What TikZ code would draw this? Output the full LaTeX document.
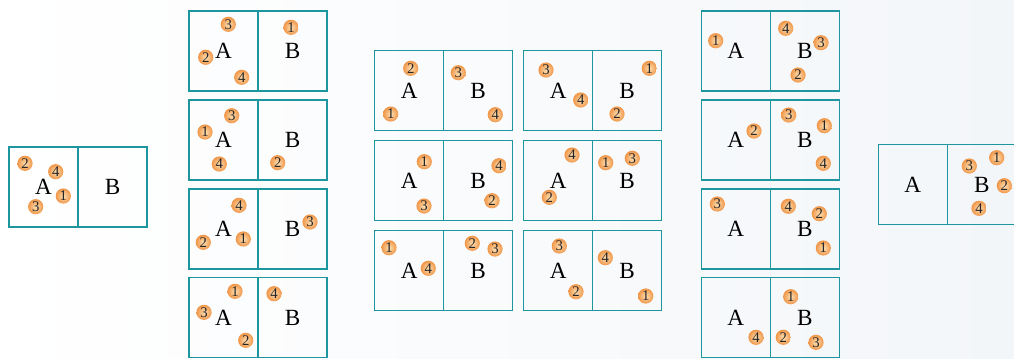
\documentclass[tikz,border=0pt]{standalone}
\usepackage{fontspec}
\setmainfont{Liberation Serif}
\usepackage{tikz}
\usetikzlibrary{positioning}
\definecolor{boxline}{RGB}{30,150,160}
\definecolor{ballin}{RGB}{253,224,180}
\definecolor{ballout}{RGB}{240,150,72}
\definecolor{bgright}{RGB}{243,246,249}
\tikzset{
    half/.style={draw=boxline, line width=1pt, minimum width=1.725cm, minimum height=2cm, inner sep=0pt, outer sep=0pt, font=\fontsize{16.5}{19}\selectfont},
    ball/.style={circle, inner sep=0pt, minimum size=0.38cm, shading=radial, inner color=ballin, outer color=ballout, text=black!85, font=\fontsize{10.5}{11}\selectfont},
    px/.style={x=0.025cm, y=-0.025cm}
}
\newcommand{\pane}[3]{%
    \node[half] (#1a) at (#2,#3) {A};
    \node[half, right=0pt of #1a] (#1b) {B};}
\newcommand{\balls}[2]{%
    \foreach \n/\x/\y in {#2} \node[ball] (#1-\n) at (\x,\y) {\n};}

\begin{document}
\begin{tikzpicture}[px]
        \fill[left color=white, right color=bgright] (0,0) rectangle (1014,358);
        \useasboundingbox (0,0) rectangle (1014,358);

        % start
        \pane{pL}{43.5}{187}
        \balls{pL}{2/25/163.3, 4/55.7/171.7, 1/63.3/196, 3/35.7/206.7}

        % second column
        \pane{pa1}{223.5}{51}
        \pane{pa2}{223.5}{140}
        \pane{pa3}{223.5}{229}
        \pane{pa4}{223.5}{317.5}
        \balls{pa1}{3/228.3/24.3, 2/205.7/57.3, 4/241.7/77.3, 1/291/27.3}
        \balls{pa2}{3/231.7/115.7, 1/205/132, 4/219.3/164, 2/277.7/162.7}
        \balls{pa3}{4/239/205.3, 1/243.3/239, 2/203.3/242.3, 3/310/222}
        \balls{pa4}{1/235/291.3, 3/204/312.3, 2/245.7/340.3, 4/274/293.7}

        % middle
        \pane{pb1}{409.2}{90.7}
        \pane{pb2}{409.2}{180.7}
        \pane{pb3}{409.2}{270.7}
        \pane{pc1}{558.2}{90.7}
        \pane{pc2}{558.2}{180.7}
        \pane{pc3}{558.2}{270.7}
        \balls{pb1}{2/410.7/68.3, 1/390.7/114, 3/458.3/72.7, 4/495.3/114.7}
        \balls{pb2}{1/424.3/161.7, 3/424/206, 4/499/165.7, 2/492/200.7}
        \balls{pb3}{1/389/247.7, 4/428.3/268.3, 2/472.3/243.3, 3/495/249}
        \balls{pc1}{3/546/70, 4/580.7/100, 1/649.3/68.3, 2/617/114}
        \balls{pc2}{4/572/155, 2/549.3/197.3, 1/605.7/162.7, 3/632.3/158.3}
        \balls{pc3}{3/559.3/246, 2/576/291.7, 4/605.3/257.7, 1/645.7/296}

        % fourth column
        \pane{pd1}{735.8}{51}
        \pane{pd2}{735.8}{140}
        \pane{pd3}{735.8}{229}
        \pane{pd4}{735.8}{317.5}
        \balls{pd1}{1/715.7/40.7, 4/785.7/28.3, 3/821/42.7, 2/798/75}
        \balls{pd2}{2/754/131, 3/788.7/115, 1/824.3/125.7, 4/823.3/163.3}
        \balls{pd3}{3/717.3/204, 4/788.3/206.3, 2/819.3/213.7, 1/823.3/248}
        \balls{pd4}{1/790.7/296.7, 4/756/337.3, 2/783.3/337.3, 3/816/342.3}

        % end
        \pane{pR}{912.8}{184.7}
        \balls{pR}{1/996.7/157.7, 3/969.3/166, 2/1004.3/185.7, 4/979/208.3}
    \end{tikzpicture}
\end{document}
